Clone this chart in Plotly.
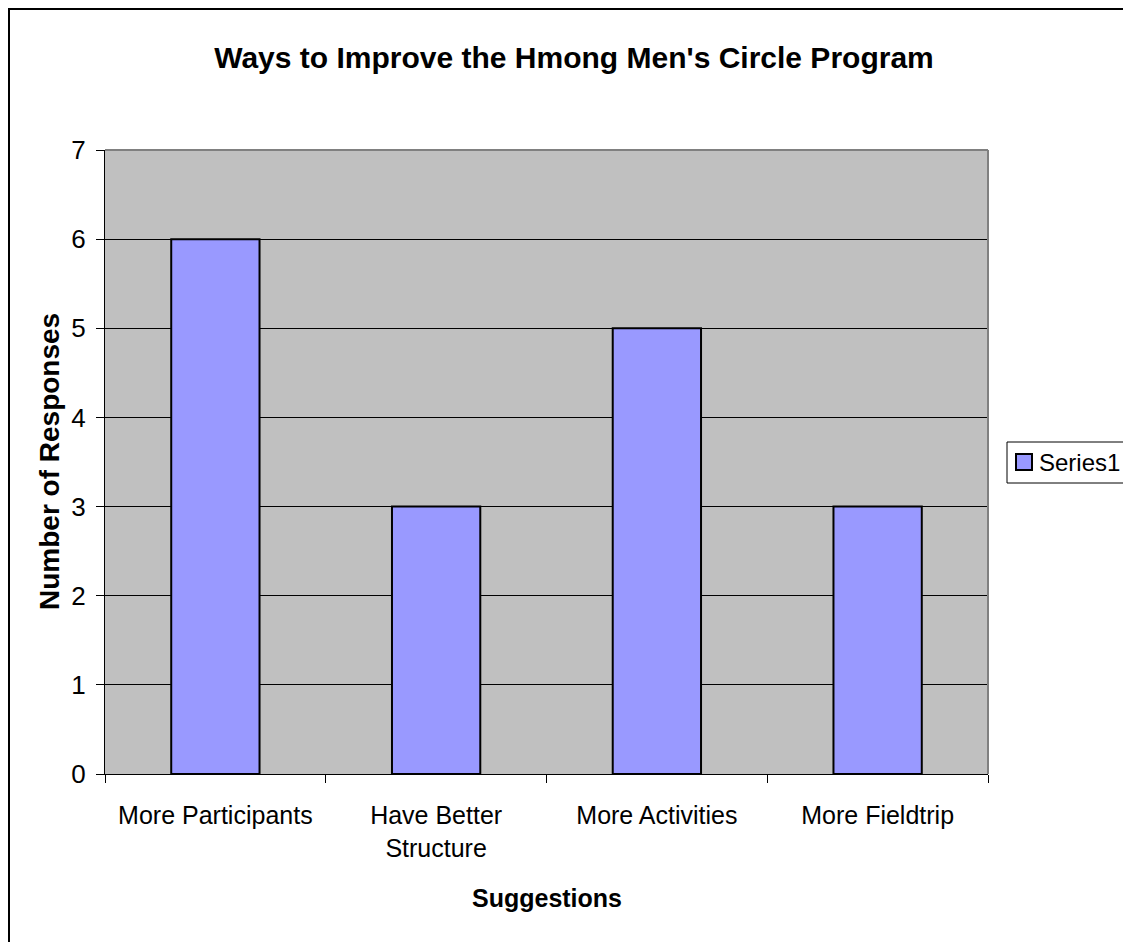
import plotly.graph_objects as go

categories = ["More Participants", "Have Better<br>Structure", "More Activities", "More Fieldtrip"]
responses = [6, 3, 5, 3]
y_ticks = [0, 1, 2, 3, 4, 5, 6, 7]
series_name = "Series1"

FONT = "Liberation Sans, Arial, sans-serif"
BAR_COLOR = "#9999FF"

# the page puts the figure 8px in from the top-left corner, so the figure
# is 1123x934 and every pixel position below is in figure coordinates
W, H = 1123, 934
L, R, T, B = 97, 980, 142, 766   # plot area edges


def px_x(p):
    return (p - L) / (R - L)


def px_y(p):
    return (B - p) / (B - T)


def hline(y, x0, x1, color, width):
    return dict(type="line", xref="paper", yref="paper", x0=px_x(x0), x1=px_x(x1),
                y0=px_y(y), y1=px_y(y), line=dict(color=color, width=width))


def vline(x, y0, y1, color, width):
    return dict(type="line", xref="paper", yref="paper", x0=px_x(x), x1=px_x(x),
                y0=px_y(y0), y1=px_y(y1), line=dict(color=color, width=width))


fig = go.Figure(go.Bar(
    x=categories,
    y=responses,
    name=series_name,
    marker=dict(color=BAR_COLOR, line=dict(color="#000000", width=2)),
))

fig.update_layout(
    width=W, height=H,
    margin=dict(l=L, r=W - R, t=T, b=H - B, autoexpand=False),
    paper_bgcolor="white",
    plot_bgcolor="#C0C0C0",
    font=dict(family=FONT, color="black"),
    bargap=0.6,
    showlegend=False,
    title=dict(
        text="<b>Ways to Improve the Hmong Men's Circle Program</b>",
        x=566 / W, xref="container", xanchor="center",
        y=1 - 49 / H, yref="container", yanchor="middle",
        font=dict(size=30, family=FONT, color="black"),
    ),
    xaxis=dict(
        tickfont=dict(size=25, family=FONT),
        ticks="outside", ticklen=8, tickcolor="#000000", tickson="boundaries",
        ticklabelstandoff=19,
        showline=True, linecolor="#000000", linewidth=1,
        showgrid=False, automargin=False,
    ),
    yaxis=dict(
        tickfont=dict(size=26, family=FONT),
        range=[0, 7], tickvals=y_ticks,
        ticks="outside", ticklen=8, tickcolor="#000000",
        ticklabelstandoff=5,
        showline=True, linecolor="#000000", linewidth=1,
        showgrid=True, gridcolor="#000000", gridwidth=1,
        zeroline=False, automargin=False,
    ),
    annotations=[
        dict(text="<b>Suggestions</b>", xref="paper", yref="paper",
             x=0.5, y=px_y(890), xanchor="center", yanchor="middle",
             showarrow=False, font=dict(size=25, family=FONT)),
        dict(text="<b>Number of Responses</b>", xref="paper", yref="paper",
             x=px_x(41), y=0.5, xanchor="center", yanchor="middle", textangle=-90,
             showarrow=False, font=dict(size=28, family=FONT)),
        # legend label
        dict(text=series_name, xref="paper", yref="paper",
             x=px_x(1029), y=px_y(454), xanchor="left", yanchor="middle",
             showarrow=False, font=dict(size=24, family=FONT)),
    ],
    shapes=[
        # grey plot area border on top and right
        dict(type="line", xref="paper", yref="paper", x0=0, x1=1, y0=1, y1=1,
             line=dict(color="#808080", width=2)),
        dict(type="line", xref="paper", yref="paper", x0=1, x1=1, y0=0, y1=1,
             line=dict(color="#808080", width=2)),
        # outer chart border (only top and left are in view)
        hline(1, 0, W, "#000000", 2),
        vline(1, 0, H, "#000000", 2),
        # legend box and swatch
        dict(type="rect", xref="paper", yref="paper",
             x0=px_x(999), x1=px_x(1120), y0=px_y(434), y1=px_y(475),
             line=dict(color="#000000", width=1), fillcolor="white"),
        dict(type="rect", xref="paper", yref="paper",
             x0=px_x(1008), x1=px_x(1024), y0=px_y(446), y1=px_y(462),
             line=dict(color="#000000", width=2), fillcolor=BAR_COLOR),
    ],
)

fig.write_html("out.html")
